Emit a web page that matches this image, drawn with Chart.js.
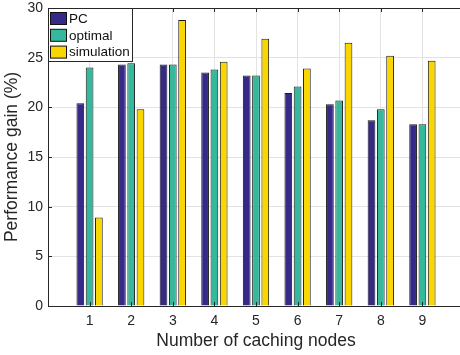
<!DOCTYPE html>
<html>
<head>
<meta charset="utf-8">
<script src="https://cdn.jsdelivr.net/npm/chart.js@4/dist/chart.umd.min.js"></script>
<style>
  html, body { margin: 0; padding: 0; background: #fff; overflow: hidden; }
  #wrap { width: 464px; height: 355px; }
</style>
</head>
<body>
<div id="wrap"><canvas id="chart" width="464" height="355"></canvas></div>
<script>
// data
const nodes = [1, 2, 3, 4, 5, 6, 7, 8, 9];
const pc = [20.4, 24.3, 24.3, 23.5, 23.2, 21.45, 20.3, 18.7, 18.3];
const optimal = [24.0, 24.45, 24.3, 23.8, 23.2, 22.1, 20.7, 19.8, 18.3];
const simulation = [8.9, 19.8, 28.8, 24.6, 26.9, 23.9, 26.5, 25.2, 24.7];
const yTicks = [0, 5, 10, 15, 20, 25, 30];

const seriesNames = ['PC', 'optimal', 'simulation'];
const seriesColors = ['#352a87', '#36b89c', '#fad600'];
const axisColor = '#262626';
const font = '"Liberation Sans", Arial, Helvetica, sans-serif';

function points(vals) {
  return nodes.map((n, i) => ({ x: n, y: vals[i] }));
}

// box round the plot, inward ticks, legend in the corner
const matlabBox = {
  id: 'matlabBox',
  afterDraw(chart) {
    const ctx = chart.ctx;
    const a = chart.chartArea;
    const xs = chart.scales.x;
    const ys = chart.scales.y;
    ctx.save();
    ctx.strokeStyle = axisColor;
    ctx.lineWidth = 1;
    ctx.beginPath();
    ctx.moveTo(a.left, a.top + 0.5);
    ctx.lineTo(a.right, a.top + 0.5);
    ctx.moveTo(a.right - 0.5, a.top);
    ctx.lineTo(a.right - 0.5, a.bottom);
    nodes.forEach(n => {
      const px = Math.round(xs.getPixelForValue(n)) + 0.5;
      ctx.moveTo(px, a.top);
      ctx.lineTo(px, a.top + 4);
      ctx.moveTo(px, a.bottom);
      ctx.lineTo(px, a.bottom - 4);
    });
    yTicks.forEach(v => {
      const py = Math.round(ys.getPixelForValue(v)) + 0.5;
      ctx.moveTo(a.left, py);
      ctx.lineTo(a.left + 4, py);
      ctx.moveTo(a.right, py);
      ctx.lineTo(a.right - 4, py);
    });
    ctx.stroke();

    // legend
    const lx = a.left + 0.5, ly = a.top + 0.5, lw = 84, lh = 53;
    ctx.fillStyle = '#fff';
    ctx.fillRect(lx, ly, lw, lh);
    ctx.strokeRect(lx, ly, lw, lh);
    ctx.font = '13.5px ' + font;
    ctx.textBaseline = 'middle';
    chart.data.datasets.forEach((ds, i) => {
      const cy = ly + 10 + i * 16.8;
      ctx.fillStyle = ds.backgroundColor;
      ctx.fillRect(lx + 2, cy - 6, 16, 12);
      ctx.strokeStyle = '#111';
      ctx.strokeRect(lx + 2, cy - 6, 16, 12);
      ctx.fillStyle = '#111';
      ctx.fillText(ds.label, lx + 20.5, cy + 0.5);
    });
    ctx.restore();
  }
};

new Chart(document.getElementById('chart'), {
  type: 'bar',
  data: {
    datasets: [pc, optimal, simulation].map((vals, i) => ({
      label: seriesNames[i],
      data: points(vals),
      backgroundColor: seriesColors[i],
      borderColor: '#1a1a1a',
      borderWidth: 1,
      categoryPercentage: 0.67,
      barPercentage: 0.83
    }))
  },
  options: {
    responsive: false,
    animation: false,
    layout: { padding: { top: 8, right: 0, left: 0, bottom: 3 } },
    plugins: {
      legend: { display: false },
      tooltip: { enabled: false }
    },
    scales: {
      x: {
        type: 'linear',
        min: 0,
        max: 10,
        offset: false,
        afterBuildTicks: s => { s.ticks = nodes.map(v => ({ value: v })); },
        afterFit: s => { s.height = 46; s.paddingLeft = 0; s.paddingRight = 0; },
        grid: { color: '#e3e3e3', drawTicks: false, offset: false },
        border: { color: axisColor },
        ticks: {
          color: axisColor,
          padding: 7,
          font: { family: font, size: 14 },
          callback: v => String(v)
        },
        title: {
          display: true,
          text: 'Number of caching nodes',
          color: axisColor,
          font: { family: font, size: 17.5 },
          padding: { top: 2, bottom: 0 }
        }
      },
      y: {
        min: 0,
        max: 30,
        afterBuildTicks: s => { s.ticks = yTicks.map(v => ({ value: v })); },
        afterFit: s => { s.width = 48; s.paddingTop = 0; s.paddingBottom = 0; },
        grid: { color: '#e3e3e3', drawTicks: false },
        border: { color: axisColor },
        ticks: {
          color: axisColor,
          padding: 5,
          font: { family: font, size: 14 }
        },
        title: {
          display: true,
          text: 'Performance gain (%)',
          color: axisColor,
          font: { family: font, size: 17.5 },
          padding: { top: 2, bottom: 0 }
        }
      }
    }
  },
  plugins: [matlabBox]
});
</script>
</body>
</html>
